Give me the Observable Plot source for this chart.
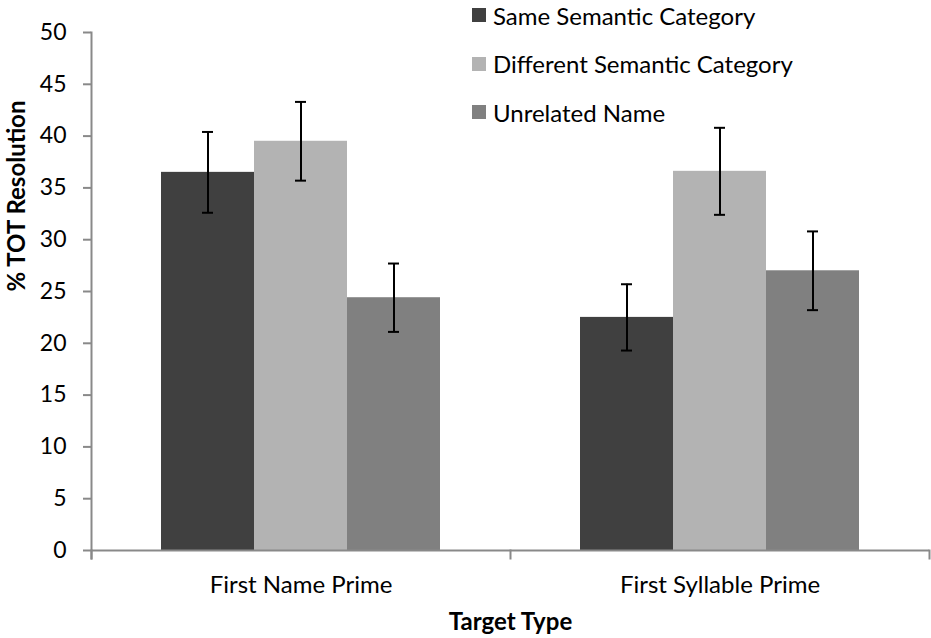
<!DOCTYPE html>
<html>
<head>
<meta charset="utf-8">
<script src="https://cdn.jsdelivr.net/npm/d3@7"></script>
<script src="https://cdn.jsdelivr.net/npm/@observablehq/plot@0.6"></script>
<style>
  html, body { margin: 0; padding: 0; background: #fff; }
  #wrap { position: relative; width: 931px; height: 638px; font-family: Lato, "Open Sans", sans-serif; }
  #legend { position: absolute; left: 472px; top: 0; }
  .row { position: absolute; left: 0; white-space: nowrap; display: flex; align-items: center; height: 26px; font-size: 24px; color: #000; }
  .sw { width: 14px; height: 14px; margin-right: 7px; display: inline-block; }
</style>
</head>
<body>
<div id="wrap"><div id="legend"></div></div>
<script>
const categories = ["First Name Prime", "First Syllable Prime"];
const series = ["Same Semantic Category", "Different Semantic Category", "Unrelated Name"];
const firstNameValues = [36.5, 39.5, 24.4];
const firstNameErrors = [3.9, 3.8, 3.3];
const firstSyllableValues = [22.5, 36.6, 27.0];
const firstSyllableErrors = [3.2, 4.2, 3.8];
const colors = ["#404040", "#b3b3b3", "#808080"];
const yTicks = [0, 5, 10, 15, 20, 25, 30, 35, 40, 45, 50];
const yLabel = "% TOT Resolution";
const xLabel = "Target Type";

const valuesByCategory = [firstNameValues, firstSyllableValues];
const errorsByCategory = [firstNameErrors, firstSyllableErrors];
const data = [];
categories.forEach((c, i) => series.forEach((s, j) => {
  const v = valuesByCategory[i][j], e = errorsByCategory[i][j];
  data.push({category: c, series: s, value: v, lo: v - e, hi: v + e});
}));

const W = 931, H = 638, mT = 32, mB = 88, mL = 91, mR = 2;
const plotH = H - mT - mB;
const axisGray = "#898989";
const font = "Lato, 'Open Sans', sans-serif";

const chart = Plot.plot({
  width: W, height: H,
  marginTop: mT, marginBottom: mB, marginLeft: mL, marginRight: mR,
  style: {fontFamily: font, fontSize: "24px", color: "#000", background: "#fff"},
  fx: {domain: categories, padding: 0},
  x: {domain: series, paddingInner: 0, paddingOuter: 0.738, axis: null},
  y: {domain: [0, 50]},
  color: {domain: series, range: colors},
  marks: [
    Plot.barY(data, {fx: "category", x: "series", y: "value", fill: "series"}),
    Plot.ruleY([0], {stroke: axisGray, strokeWidth: 2}),
    Plot.frame({anchor: "left", facet: "super", stroke: axisGray, strokeWidth: 2, insetBottom: -8}),
    Plot.frame({anchor: "left", stroke: axisGray, strokeWidth: 2, insetTop: plotH, insetBottom: -8}),
    Plot.frame({anchor: "right", facet: "super", stroke: axisGray, strokeWidth: 2, insetTop: plotH, insetBottom: -8}),
    Plot.ruleX(data, {fx: "category", x: "series", y1: "lo", y2: "hi", stroke: "#000", strokeWidth: 2}),
    Plot.tickY(data, {fx: "category", x: "series", y: "lo", stroke: "#000", strokeWidth: 2, insetLeft: 41, insetRight: 41}),
    Plot.tickY(data, {fx: "category", x: "series", y: "hi", stroke: "#000", strokeWidth: 2, insetLeft: 41, insetRight: 41}),
    Plot.axisY({ticks: yTicks, tickSize: 8, tickPadding: 17, stroke: axisGray, strokeWidth: 2, fill: "#000", fontSize: 23, label: null}),
    Plot.axisFx({anchor: "bottom", tickSize: 0, tickPadding: 25, fontSize: 24, fill: "#000", label: null}),
    Plot.text([yLabel], {facet: "super", frameAnchor: "left", dx: -74, rotate: -90, fontWeight: "bold", fontSize: 24, fill: "#000"}),
    Plot.text([xLabel], {facet: "super", frameAnchor: "bottom", dy: 79, fontWeight: "bold", fontSize: 24, fill: "#000"})
  ]
});
document.getElementById("wrap").prepend(chart);

const legend = document.getElementById("legend");
series.forEach((s, i) => {
  const row = document.createElement("div");
  row.className = "row";
  row.style.top = (2 + i * 48.5) + "px";
  const sw = document.createElement("span");
  sw.className = "sw";
  sw.style.background = colors[i];
  const t = document.createElement("span");
  t.textContent = s;
  row.append(sw, t);
  legend.append(row);
});
</script>
</body>
</html>
